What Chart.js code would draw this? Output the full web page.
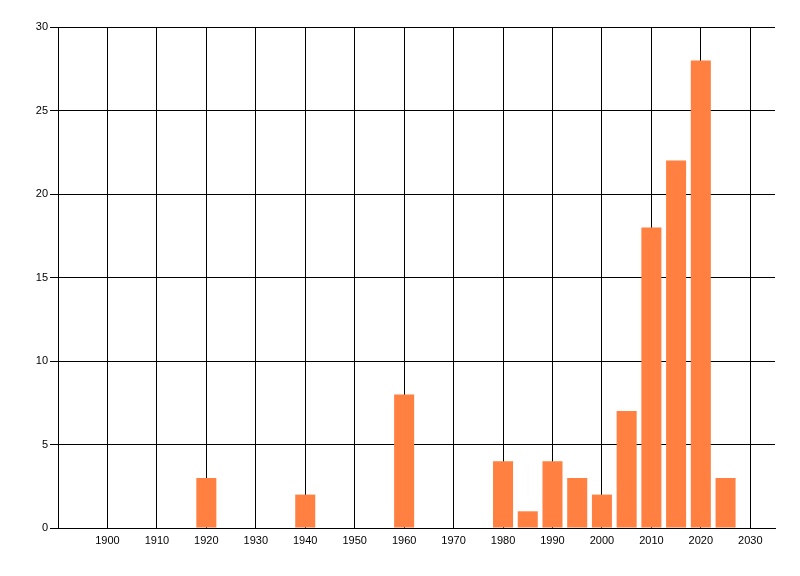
<!DOCTYPE html>
<html>
<head>
<meta charset="utf-8">
<script src="https://cdn.jsdelivr.net/npm/chart.js@4"></script>
<style>
    html, body { margin: 0; padding: 0; background: #fff; }
    #wrap { width: 800px; height: 576px; }
</style>
</head>
<body>
<div id="wrap"><canvas id="barChart" width="800" height="576"></canvas></div>
<script>
// Años (centro de cada barra) y valores
const years = [1920, 1940, 1960, 1980, 1985, 1990, 1995, 2000, 2005, 2010, 2015, 2020, 2025];
const counts = [3, 2, 8, 4, 1, 4, 3, 2, 7, 18, 22, 28, 3];

// Marcas de los ejes
const xTicks = [1900, 1910, 1920, 1930, 1940, 1950, 1960, 1970, 1980, 1990, 2000, 2010, 2020, 2030];
const yTicks = [0, 5, 10, 15, 20, 25, 30];

const tickFont = { family: "'Liberation Sans', Arial, sans-serif", size: 11 };

let ctx = document.getElementById("barChart").getContext("2d");

let barChart = new Chart(ctx, {
    type: "bar",
    data: {
        datasets: [{
            data: years.map((y, i) => ({ x: y, y: counts[i] })),
            backgroundColor: "rgb(255,128,64)",
            borderWidth: 0,
            barPercentage: 0.9,
            categoryPercentage: 0.9
        }]
    },
    options: {
        responsive: false,
        animation: false,
        devicePixelRatio: 1,
        layout: { padding: { top: 27, right: 25, left: 0, bottom: 0 } },
        plugins: {
            legend: { display: false },
            tooltip: { enabled: false }
        },
        scales: {
            x: {
                type: "linear",
                min: 1890,
                max: 2035,
                offset: false,
                afterBuildTicks: scale => {
                    scale.ticks = xTicks.map(v => ({ value: v }));
                },
                afterFit: scale => { scale.height = 48; },
                ticks: {
                    color: "#000",
                    font: tickFont,
                    padding: 6,
                    maxRotation: 0,
                    autoSkip: false,
                    callback: v => String(v)
                },
                grid: { color: "#000", lineWidth: 1, drawTicks: false, offset: false },
                border: { display: true, color: "#000", width: 1 }
            },
            y: {
                min: 0,
                max: 30,
                afterBuildTicks: scale => {
                    scale.ticks = yTicks.map(v => ({ value: v }));
                },
                afterFit: scale => { scale.width = 58; },
                ticks: {
                    color: "#000",
                    font: tickFont,
                    padding: 2
                },
                grid: { color: "#000", lineWidth: 1, tickLength: 8 },
                border: { display: true, color: "#000", width: 1 }
            }
        }
    }
});
</script>
</body>
</html>
